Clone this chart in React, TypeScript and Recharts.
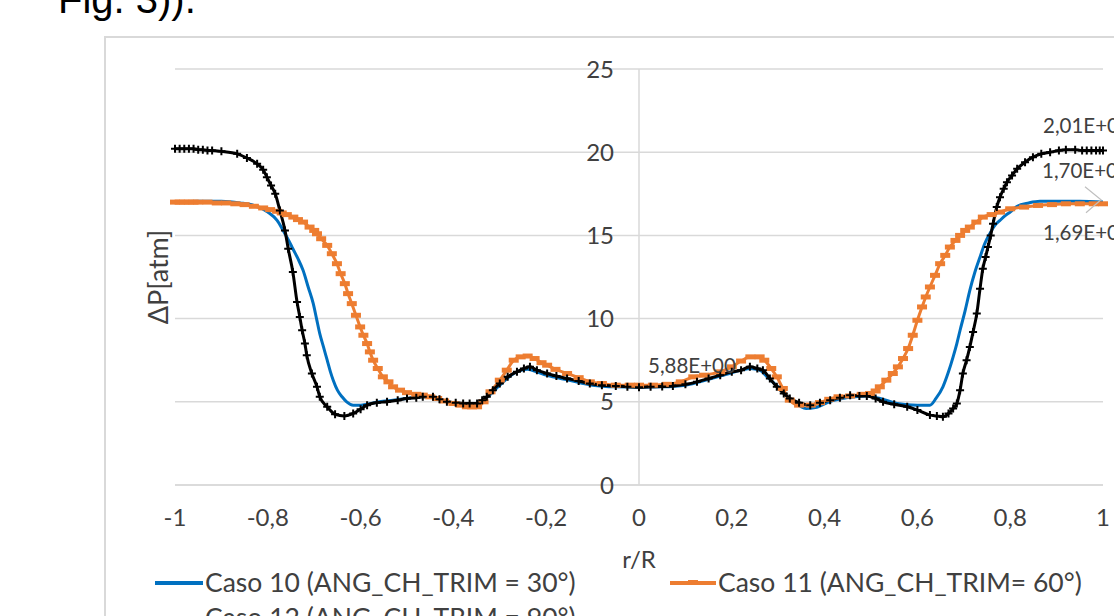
import { CartesianGrid, LabelList, Line, LineChart, ReferenceLine, XAxis, YAxis } from "recharts";

// r/R axis ticks and ΔP axis ticks
const rTicks = [-1, -0.8, -0.6, -0.4, -0.2, 0, 0.2, 0.4, 0.6, 0.8, 1];
const dpTicks = [0, 5, 10, 15, 20, 25];

const seriesNames = [
  "Caso 10 (ANG_CH_TRIM = 30°)",
  "Caso 11 (ANG_CH_TRIM= 60°)",
  "Caso 12 (ANG_CH_TRIM = 90°)",
];

// [r/R, ΔP]
const caso10: [number, number][] = [
  [-1, 17.0], [-0.95, 17.05], [-0.9, 17.05], [-0.86, 16.95], [-0.83, 16.8], [-0.8, 16.4],
  [-0.78, 15.9], [-0.767, 15.3], [-0.755, 14.7], [-0.746, 14.2], [-0.735, 13.6], [-0.724, 12.9],
  [-0.713, 11.9], [-0.702, 10.9], [-0.695, 10.0], [-0.688, 9.1], [-0.68, 8.3], [-0.672, 7.5],
  [-0.665, 6.8], [-0.659, 6.3], [-0.65, 5.7], [-0.64, 5.3], [-0.63, 5.0], [-0.616, 4.8],
  [-0.6, 4.8], [-0.586, 4.85], [-0.56, 5.0], [-0.53, 5.1], [-0.5, 5.2], [-0.47, 5.3],
  [-0.44, 5.25], [-0.42, 5.05], [-0.4, 4.9], [-0.37, 4.75], [-0.35, 4.8], [-0.33, 5.2],
  [-0.3, 6.0], [-0.27, 6.7], [-0.24, 6.95], [-0.22, 6.8], [-0.2, 6.6], [-0.15, 6.3],
  [-0.1, 6.0], [-0.05, 5.9], [0, 5.88], [0.05, 5.9], [0.1, 6.0], [0.15, 6.35],
  [0.2, 6.75], [0.24, 7.0], [0.26, 6.9], [0.28, 6.4], [0.3, 5.9], [0.33, 5.1],
  [0.36, 4.6], [0.38, 4.65], [0.41, 5.0], [0.45, 5.25], [0.49, 5.35], [0.52, 5.2],
  [0.556, 4.9], [0.6, 4.8], [0.627, 4.8], [0.64, 5.2], [0.655, 5.9], [0.667, 6.8],
  [0.677, 7.7], [0.685, 8.5], [0.692, 9.3], [0.703, 10.5], [0.713, 11.7], [0.724, 12.8],
  [0.735, 13.7], [0.745, 14.5], [0.756, 15.1], [0.767, 15.6], [0.778, 15.9], [0.79, 16.2],
  [0.8, 16.4], [0.815, 16.75], [0.84, 16.95], [0.864, 17.05], [0.9, 17.05], [0.95, 17.05],
  [1, 17.0],
];

const caso11: [number, number][] = [
  [-1, 17.0], [-0.99, 17.0], [-0.98, 17.0], [-0.97, 17.0], [-0.96, 17.0], [-0.95, 17.0],
  [-0.93, 17.0], [-0.91, 16.95], [-0.89, 16.95], [-0.87, 16.9], [-0.85, 16.85], [-0.83, 16.75],
  [-0.81, 16.65], [-0.795, 16.55], [-0.78, 16.45], [-0.77, 16.35], [-0.759, 16.25], [-0.745, 16.1],
  [-0.735, 15.95], [-0.724, 15.8], [-0.71, 15.5], [-0.7, 15.3], [-0.694, 15.1], [-0.685, 14.8],
  [-0.672, 14.4], [-0.662, 13.9], [-0.651, 13.3], [-0.643, 12.7], [-0.634, 12.1], [-0.627, 11.5],
  [-0.619, 10.9], [-0.61, 10.2], [-0.601, 9.5], [-0.594, 9.0], [-0.586, 8.5], [-0.58, 8.0],
  [-0.573, 7.5], [-0.563, 7.0], [-0.552, 6.5], [-0.54, 6.2], [-0.53, 5.9], [-0.515, 5.7],
  [-0.5, 5.55], [-0.48, 5.45], [-0.466, 5.4], [-0.45, 5.3], [-0.435, 5.2], [-0.42, 5.05],
  [-0.4, 4.9], [-0.385, 4.8], [-0.371, 4.7], [-0.36, 4.7], [-0.349, 4.7], [-0.335, 5.0],
  [-0.32, 5.6], [-0.3, 6.3], [-0.285, 6.9], [-0.27, 7.5], [-0.255, 7.7], [-0.24, 7.75],
  [-0.225, 7.6], [-0.21, 7.35], [-0.198, 7.2], [-0.18, 6.95], [-0.155, 6.7], [-0.13, 6.45],
  [-0.106, 6.2], [-0.08, 6.1], [-0.05, 6.0], [-0.02, 6.0], [0, 6.0], [0.03, 6.0],
  [0.06, 6.05], [0.09, 6.2], [0.117, 6.5], [0.14, 6.6], [0.175, 6.8], [0.2, 7.1],
  [0.22, 7.45], [0.24, 7.7], [0.26, 7.7], [0.27, 7.5], [0.285, 7.0], [0.297, 6.5],
  [0.31, 5.8], [0.325, 5.1], [0.345, 4.8], [0.37, 4.8], [0.39, 4.95], [0.41, 5.15],
  [0.43, 5.3], [0.455, 5.35], [0.48, 5.45], [0.498, 5.5], [0.51, 5.65], [0.519, 5.9],
  [0.533, 6.3], [0.547, 6.7], [0.558, 7.1], [0.569, 7.6], [0.58, 8.2], [0.59, 9.0],
  [0.6, 9.9], [0.61, 10.7], [0.618, 11.3], [0.627, 11.9], [0.638, 12.6], [0.649, 13.3],
  [0.66, 13.8], [0.67, 14.3], [0.682, 14.7], [0.692, 15.0], [0.703, 15.3], [0.713, 15.5],
  [0.727, 15.8], [0.741, 16.1], [0.76, 16.25], [0.778, 16.4], [0.8, 16.6], [0.83, 16.7],
  [0.86, 16.8], [0.89, 16.85], [0.92, 16.9], [0.95, 16.9], [0.98, 16.9], [1, 16.9],
];

const caso12: [number, number][] = [
  [-1, 20.2], [-0.99, 20.2], [-0.98, 20.2], [-0.97, 20.2], [-0.96, 20.2], [-0.95, 20.15],
  [-0.94, 20.15], [-0.93, 20.1], [-0.92, 20.1], [-0.9, 20.05], [-0.866, 19.9], [-0.845, 19.65],
  [-0.823, 19.3], [-0.81, 18.95], [-0.802, 18.5], [-0.793, 18.0], [-0.784, 17.5], [-0.774, 16.5],
  [-0.763, 15.3], [-0.756, 14.2], [-0.746, 12.8], [-0.737, 11.0], [-0.731, 10.1], [-0.726, 9.3],
  [-0.72, 8.5], [-0.716, 7.8], [-0.705, 6.7], [-0.694, 5.9], [-0.688, 5.3], [-0.672, 4.7],
  [-0.655, 4.25], [-0.635, 4.15], [-0.616, 4.3], [-0.6, 4.55], [-0.586, 4.8], [-0.565, 4.95],
  [-0.543, 5.0], [-0.52, 5.1], [-0.5, 5.2], [-0.48, 5.25], [-0.466, 5.3], [-0.444, 5.3],
  [-0.43, 5.15], [-0.414, 5.0], [-0.395, 4.95], [-0.379, 4.9], [-0.365, 4.9], [-0.349, 4.9],
  [-0.338, 5.1], [-0.328, 5.3], [-0.315, 5.7], [-0.3, 6.1], [-0.283, 6.5], [-0.263, 6.8],
  [-0.248, 7.0], [-0.235, 7.1], [-0.22, 6.9], [-0.198, 6.7], [-0.178, 6.55], [-0.155, 6.4],
  [-0.13, 6.25], [-0.106, 6.1], [-0.08, 6.0], [-0.05, 5.95], [-0.025, 5.9], [0, 5.88],
  [0.025, 5.9], [0.05, 5.92], [0.073, 5.95], [0.1, 6.05], [0.125, 6.2], [0.15, 6.4],
  [0.175, 6.6], [0.2, 6.8], [0.22, 6.9], [0.239, 7.1], [0.255, 7.0], [0.267, 6.9],
  [0.282, 6.4], [0.297, 5.9], [0.312, 5.5], [0.325, 5.2], [0.345, 4.95], [0.369, 4.8],
  [0.39, 4.95], [0.412, 5.1], [0.433, 5.25], [0.455, 5.4], [0.475, 5.35], [0.491, 5.35],
  [0.51, 5.2], [0.526, 5.0], [0.55, 4.85], [0.578, 4.7], [0.6, 4.5], [0.627, 4.2],
  [0.642, 4.15], [0.655, 4.1], [0.667, 4.3], [0.677, 4.6], [0.685, 4.9], [0.692, 5.7],
  [0.698, 6.7], [0.706, 7.5], [0.713, 8.3], [0.72, 9.2], [0.728, 10.3], [0.735, 11.8],
  [0.741, 13.0], [0.747, 13.7], [0.752, 14.3], [0.758, 15.0], [0.763, 15.7], [0.771, 16.7],
  [0.778, 17.3], [0.786, 17.8], [0.793, 18.2], [0.804, 18.6], [0.815, 19.0], [0.832, 19.4],
  [0.849, 19.7], [0.867, 19.9], [0.886, 20.0], [0.905, 20.1], [0.92, 20.15], [0.94, 20.15],
  [0.955, 20.1], [0.965, 20.1], [0.975, 20.1], [0.985, 20.1], [0.993, 20.1], [1, 20.1],
];

const BLUE = "#0070C0";
const ORANGE = "#ED7D31";
const BLACK = "#000000";
const GRID = "#d9d9d9";
const TEXT = "#404040";
const FONT = "Lato, 'Open Sans', sans-serif";

const CHART_W = 1200;
const CHART_H = 640;
const X_AXIS_H = 40;
const Y_AXIS_W = 40;
// plot area: r = -1 at x 175, r = 1 at x 1103, ΔP 25 at y 69, ΔP 0 at y 485
const MARGIN = { top: 69, right: 97, bottom: 155 - X_AXIS_H, left: 175 - Y_AXIS_W };
const PLOT_W = CHART_W - MARGIN.left - Y_AXIS_W - MARGIN.right;

const toRows = (pts: [number, number][]) => pts.map(([r, dp]) => ({ r, dp }));

// Excel style scientific label: 5,88E+00
const fmtExcel = (v: number) => {
  const [m, e] = v.toExponential(2).split("e");
  const exp = parseInt(e, 10);
  return `${m.replace(".", ",")}E${exp >= 0 ? "+" : "-"}${String(Math.abs(exp)).padStart(2, "0")}`;
};

const fmtTick = (v: number) => String(Math.round(v * 10) / 10).replace(".", ",");

const OrangeDash = (p: any) => {
  if (p.cx == null || p.cy == null) return <g key={`o${p.index}`} />;
  return <rect key={`o${p.index}`} x={p.cx - 5} y={p.cy - 2.5} width={10} height={5} fill={ORANGE} />;
};

const BlackPlus = (p: any) => {
  if (p.cx == null || p.cy == null) return <g key={`b${p.index}`} />;
  return (
    <path
      key={`b${p.index}`}
      d={`M${p.cx - 4},${p.cy}h8M${p.cx},${p.cy - 4}v8`}
      stroke={BLACK}
      strokeWidth={2}
      fill="none"
    />
  );
};

// label only one point of a series, offset from the point
const pointLabel = (target: number, dx: number, dy: number, leader?: boolean) => (p: any) => {
  if (p.index !== target) return null;
  const x = Number(p.x);
  const y = Number(p.y);
  return (
    <g>
      {leader && (
        <polyline
          points={`${x - 18},${y - 17} ${x - 2},${y - 4} ${x - 17},${y + 9}`}
          fill="none"
          stroke="#bfbfbf"
          strokeWidth={1.2}
        />
      )}
      <text x={x + dx} y={y + dy} fontSize={20.5} fill={TEXT} fontFamily={FONT}>
        {fmtExcel(Number(p.value))}
      </text>
    </g>
  );
};

const XTitle = (p: any) => {
  const vb = p.viewBox || {};
  return (
    <text
      x={vb.x + vb.width / 2}
      y={vb.y + 83}
      textAnchor="middle"
      fontSize={24}
      fill={TEXT}
      fontFamily={FONT}
    >
      r/R
    </text>
  );
};

const YTitle = (p: any) => {
  const vb = p.viewBox || {};
  const cx = vb.x + vb.width - 18;
  const cy = vb.y + vb.height / 2;
  return (
    <text
      x={cx}
      y={cy}
      transform={`rotate(-90 ${cx} ${cy})`}
      textAnchor="middle"
      dominantBaseline="central"
      fontSize={27}
      fill={TEXT}
      fontFamily={FONT}
    >
      ΔP[atm]
    </text>
  );
};

const App = () => {
  const d10 = toRows(caso10);
  const d11 = toRows(caso11);
  const d12 = toRows(caso12);
  const centre10 = caso10.findIndex(([r]) => r === 0);

  return (
    <div
      style={{
        position: "fixed",
        left: 0,
        top: 0,
        width: 1114,
        height: 616,
        overflow: "hidden",
        background: "#fff",
        fontFamily: FONT,
      }}
    >
      {/* chart frame, cut by the screenshot on the right and bottom */}
      <div
        style={{
          position: "absolute",
          left: 104,
          top: 36,
          width: 1200,
          height: 700,
          border: `2px solid ${GRID}`,
        }}
      />
      <div style={{ position: "absolute", left: 0, top: 0 }}>
        <LineChart width={CHART_W} height={CHART_H} margin={MARGIN}>
          <CartesianGrid vertical={false} stroke={GRID} strokeWidth={1.5} />
          <XAxis
            type="number"
            dataKey="r"
            domain={[-1, 1]}
            ticks={rTicks}
            tickFormatter={fmtTick}
            height={X_AXIS_H}
            tickSize={0}
            tickMargin={24}
            axisLine={{ stroke: GRID, strokeWidth: 1.5 }}
            tick={{ fontSize: 24, fill: TEXT, fontFamily: FONT }}
            label={<XTitle />}
          />
          <YAxis
            type="number"
            domain={[0, 25]}
            ticks={dpTicks}
            width={Y_AXIS_W}
            tickSize={0}
            tickMargin={0}
            axisLine={false}
            tick={{ fontSize: 24, fill: TEXT, fontFamily: FONT, dx: PLOT_W / 2 - 25 }}
            label={<YTitle />}
          />
          <ReferenceLine x={0} stroke={GRID} strokeWidth={1.5} />
          <Line
            data={d10}
            dataKey="dp"
            name={seriesNames[0]}
            type="monotone"
            stroke={BLUE}
            strokeWidth={3}
            dot={false}
            isAnimationActive={false}
          >
            <LabelList dataKey="dp" content={pointLabel(d10.length - 1, -61, -24)} />
            <LabelList dataKey="dp" content={pointLabel(centre10, 9, -14)} />
          </Line>
          <Line
            data={d11}
            dataKey="dp"
            name={seriesNames[1]}
            type="monotone"
            stroke={ORANGE}
            strokeWidth={3}
            dot={OrangeDash}
            isAnimationActive={false}
          >
            <LabelList dataKey="dp" content={pointLabel(d11.length - 1, -60, 36, true)} />
          </Line>
          <Line
            data={d12}
            dataKey="dp"
            name={seriesNames[2]}
            type="monotone"
            stroke={BLACK}
            strokeWidth={3}
            dot={BlackPlus}
            isAnimationActive={false}
          >
            <LabelList dataKey="dp" content={pointLabel(d12.length - 1, -60, -18)} />
          </Line>
        </LineChart>
      </div>
      {/* page text above the chart and legend below the plot */}
      <svg
        width={1114}
        height={616}
        style={{ position: "absolute", left: 0, top: 0, pointerEvents: "none" }}
      >
        <text x={58} y={13} fontSize={40} fill="#000" fontFamily="'Liberation Sans', Arial, sans-serif">
          Fig. 3)).
        </text>
        <g fontFamily={FONT} fontSize={26.5} fill={TEXT}>
          <line x1={155} y1={583} x2={203} y2={583} stroke={BLUE} strokeWidth={4} />
          <text x={205} y={592}>{seriesNames[0]}</text>
          <line x1={670} y1={583} x2={716} y2={583} stroke={ORANGE} strokeWidth={4} />
          <rect x={688} y={580} width={10} height={5} fill={ORANGE} />
          <text x={718} y={592}>{seriesNames[1]}</text>
          <line x1={155} y1={618} x2={203} y2={618} stroke={BLACK} strokeWidth={4} />
          <text x={205} y={627}>{seriesNames[2]}</text>
        </g>
      </svg>
    </div>
  );
};

export default App;
